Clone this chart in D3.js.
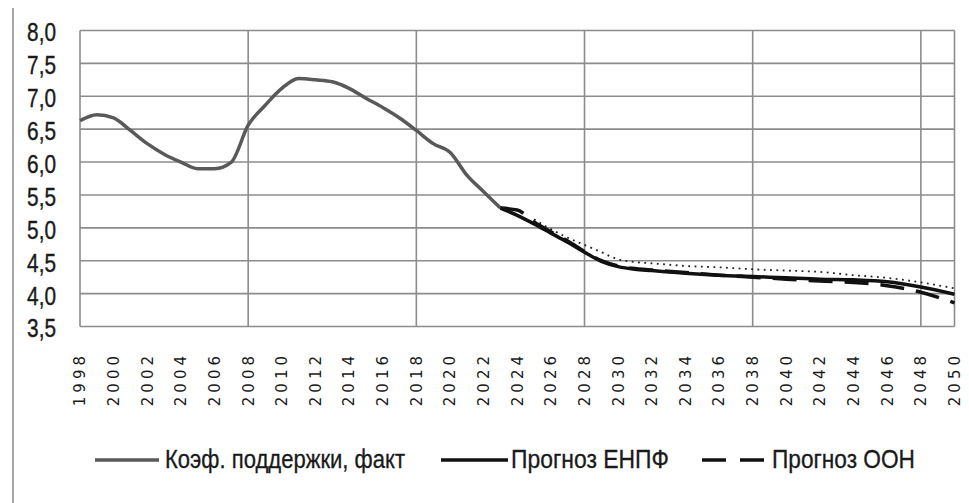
<!DOCTYPE html>
<html><head><meta charset="utf-8">
<script src="https://cdn.jsdelivr.net/npm/d3@7"></script>
<style>body{margin:0;background:#fff}svg{display:block}</style>
</head><body>
<svg id="c" width="969" height="503"></svg>
<script>
const factYears = [1998,1999,2000,2001,2002,2003,2004,2005,2006,2007,2008,2009,2010,2011,2012,2013,2014,2015,2016,2017,2018,2019,2020,2021,2022,2023];
const factValues = [6.63,6.72,6.67,6.48,6.28,6.12,6.00,5.90,5.90,6.00,6.56,6.86,7.12,7.27,7.25,7.22,7.12,6.97,6.83,6.67,6.48,6.28,6.15,5.80,5.55,5.30];
const enpfYears = [2023,2024,2025,2026,2027,2028,2029,2030,2031,2032,2033,2034,2036,2038,2040,2042,2044,2046,2048,2050];
const enpfValues = [5.30,5.19,5.06,4.92,4.78,4.63,4.49,4.41,4.37,4.35,4.33,4.31,4.28,4.26,4.24,4.22,4.21,4.18,4.10,3.99];
const oonYears = [2023,2024,2025,2026,2027,2028,2029,2030,2032,2034,2036,2038,2040,2042,2044,2046,2048,2050];
const oonValues = [5.30,5.27,5.09,4.94,4.80,4.64,4.50,4.42,4.36,4.32,4.28,4.25,4.22,4.19,4.17,4.12,4.02,3.86];
const dotYears = [2025,2026,2027,2028,2029,2030,2031,2032,2033,2034,2036,2038,2040,2042,2044,2046,2048,2050];
const dotValues = [5.13,4.98,4.85,4.74,4.63,4.52,4.48,4.46,4.44,4.42,4.40,4.37,4.35,4.33,4.28,4.24,4.17,4.08];
const yTicks = [3.5,4.0,4.5,5.0,5.5,6.0,6.5,7.0,7.5,8.0];
const xTicks = d3.range(1998, 2051, 2);
const xGrid = [2008,2018,2028,2038,2048];
const legendLabels = ["Коэф. поддержки, факт","Прогноз ЕНПФ","Прогноз ООН"];

const svg = d3.select("#c");
const x = d3.scaleLinear().domain([1998,2050]).range([80,954.5]);
const y = d3.scaleLinear().domain([3.5,8.0]).range([326.5,30.5]);
const fmt = v => d3.format(".1f")(v).replace(".", ",");
const condensed = "'Liberation Sans',Arial,sans-serif";

svg.append("line").attr("x1",13).attr("x2",13).attr("y1",8).attr("y2",503)
  .attr("stroke","#8a8a8a").attr("stroke-width",1.5);

const g = svg.append("g");
g.selectAll(".hg").data(yTicks).join("line")
  .attr("x1",x(1998)).attr("x2",x(2050))
  .attr("y1",d=>y(d)).attr("y2",d=>y(d))
  .attr("stroke","#8c8c8c").attr("stroke-width",1.6);
g.selectAll(".vg").data([1998,...xGrid,2050]).join("line")
  .attr("x1",d=>x(d)).attr("x2",d=>x(d))
  .attr("y1",y(8)).attr("y2",y(3.5))
  .attr("stroke","#8c8c8c").attr("stroke-width",1.6);

svg.selectAll(".yl").data(yTicks).join("text")
  .attr("transform",d=>`translate(56,${y(d)}) scale(0.8,1)`)
  .attr("dy","0.42em").attr("text-anchor","end")
  .style("font-family",condensed)
  .style("font-size","26px").style("fill","#1a1a1a")
  .style("stroke","#1a1a1a").style("stroke-width","0.4px")
  .text(fmt);

svg.selectAll(".xl").data(xTicks).join("text")
  .attr("transform",d=>`translate(${x(d)},352) rotate(-90)`)
  .attr("dy","0.36em").attr("text-anchor","end")
  .style("font-family","'DejaVu Sans',sans-serif")
  .style("font-size","15px").style("letter-spacing","4px").style("fill","#1a1a1a")
  .text(d=>d);

const line = d3.line().x(d=>x(d[0])).y(d=>y(d[1])).curve(d3.curveMonotoneX);
const fact = factYears.map((d,i)=>[d,factValues[i]]);
const enpf = enpfYears.map((d,i)=>[d,enpfValues[i]]);
const oon = oonYears.map((d,i)=>[d,oonValues[i]]);
const dots = dotYears.map((d,i)=>[d,dotValues[i]]);

svg.append("path").datum(dots).attr("d",line)
  .attr("fill","none").attr("stroke","#222").attr("stroke-width",1.8)
  .attr("stroke-dasharray","1.8,4.5");
svg.append("path").datum(fact).attr("d",line)
  .attr("fill","none").attr("stroke","#595959").attr("stroke-width",3.5)
  .attr("stroke-linejoin","round");
svg.append("path").datum(enpf).attr("d",line)
  .attr("fill","none").attr("stroke","#111").attr("stroke-width",3.5);
svg.append("path").datum(oon).attr("d",line)
  .attr("fill","none").attr("stroke","#111").attr("stroke-width",3.5)
  .attr("stroke-dasharray","24,12");

const leg = [
  {lx:95, lx2:159, tx:165, tw:240, stroke:"#595959", dash:null},
  {lx:441, lx2:508, tx:511, tw:158, stroke:"#111", dash:null},
  {lx:702, lx2:769, tx:772, tw:143, stroke:"#111", dash:"24,14"}
];
const lg = svg.selectAll(".lg").data(leg).join("g");
lg.append("line").attr("x1",d=>d.lx).attr("x2",d=>d.lx2)
  .attr("y1",460).attr("y2",460)
  .attr("stroke",d=>d.stroke).attr("stroke-width",3.5)
  .attr("stroke-dasharray",d=>d.dash);
lg.append("text").attr("x",d=>d.tx).attr("y",459).attr("dy","0.36em")
  .attr("textLength",d=>d.tw).attr("lengthAdjust","spacingAndGlyphs")
  .style("font-family",condensed)
  .style("font-size","25px").style("fill","#1a1a1a")
  .style("stroke","#1a1a1a").style("stroke-width","0.3px")
  .text((d,i)=>legendLabels[i]);
</script>
</body></html>
